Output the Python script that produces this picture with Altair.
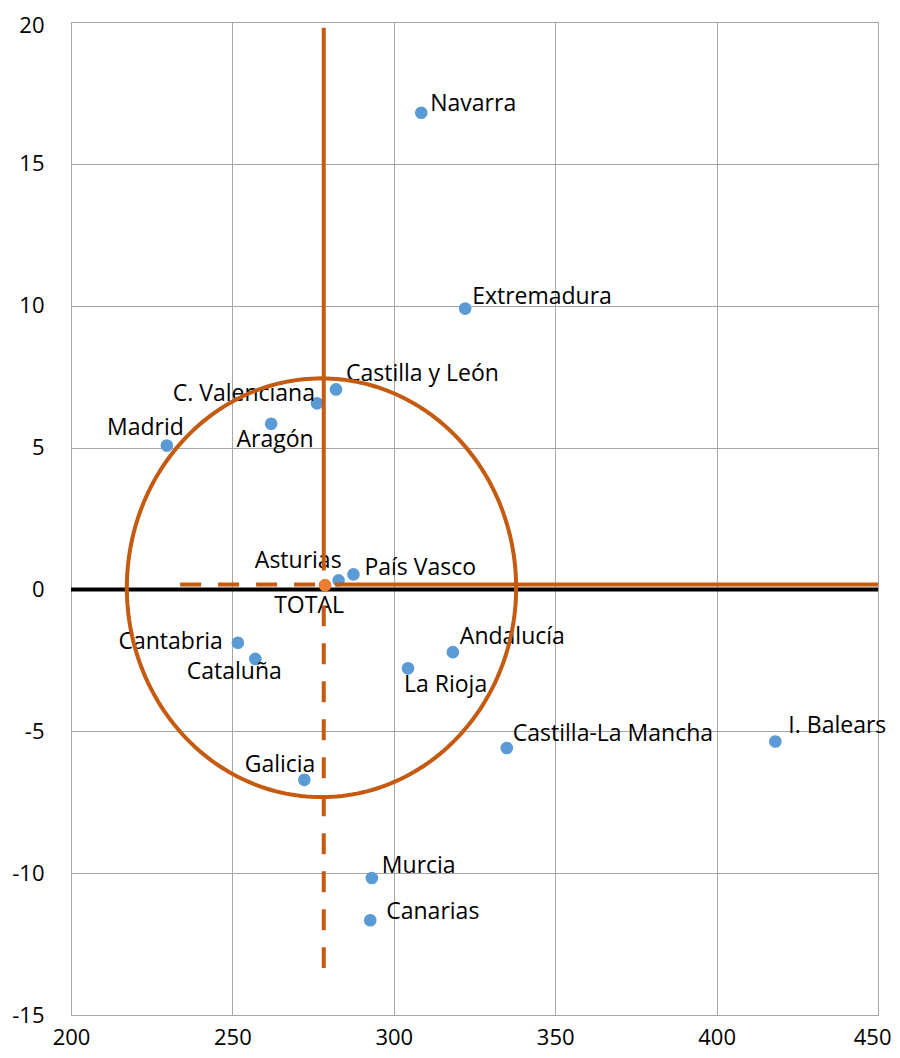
import altair as alt
import numpy as np
import pandas as pd

# ---------------- data ----------------
regions = ["Navarra", "Extremadura", "Castilla y León", "C. Valenciana", "Aragón",
           "Madrid", "Asturias", "País Vasco", "Cantabria", "Cataluña", "La Rioja",
           "Andalucía", "Castilla-La Mancha", "I. Balears", "Galicia", "Murcia", "Canarias"]
x_vals = [308.5, 322.1, 282.1, 276.2, 262.0, 229.7, 282.9, 287.5, 251.7, 257.1,
          304.4, 318.3, 335.0, 418.2, 272.3, 293.2, 292.7]
y_vals = [16.8, 9.9, 7.05, 6.56, 5.84, 5.07, 0.32, 0.53, -1.88, -2.45,
          -2.78, -2.21, -5.59, -5.36, -6.71, -10.17, -11.66]

total_name = ["TOTAL"]
total_x = [278.7]
total_y = [0.15]

# reference segments (solid / dashed)
solid_x1 = [278.3, 281.8]
solid_x2 = [278.3, 450.0]
solid_y1 = [19.8, 0.17]
solid_y2 = [0.67, 0.17]
dashed_x1 = [278.3, 233.8]
dashed_x2 = [278.3, 275.6]
dashed_y1 = [-0.56, 0.17]
dashed_y2 = [-13.34, 0.17]

# ellipse annotation (centre and radii in data units)
ellipse_center = [277.6, 0.06]
ellipse_radii = [60.3, 7.38]

x_ticks = [200, 250, 300, 350, 400, 450]
y_ticks = [-15, -10, -5, 0, 5, 10, 15, 20]

# ---------------- styles ----------------
FONT = "Open Sans"
FS = 23
AXIS_FS = 22
BLUE = "#5B9BD5"
ORANGE_PT = "#ED7D31"
ORANGE = "#C55A11"
GRID = "#A6A6A6"

# label placement: (align, dx, dy) in pixels
label_place = {
    "Navarra": ("left", 9, -9),
    "Extremadura": ("left", 7, -12),
    "Castilla y León": ("left", 10, -15),
    "C. Valenciana": ("right", -2, -9),
    "Aragón": ("center", 4, 16),
    "Madrid": ("right", 17, -18),
    "Asturias": ("right", 3, -19),
    "País Vasco": ("left", 11, -6),
    "Cantabria": ("right", -15, -1),
    "Cataluña": ("center", -21, 13),
    "La Rioja": ("left", -4, 17),
    "Andalucía": ("left", 7, -15),
    "Castilla-La Mancha": ("left", 6, -14),
    "I. Balears": ("left", 13, -15),
    "Galicia": ("right", 11, -15),
    "Murcia": ("left", 10, -12),
    "Canarias": ("left", 16, -8),
    "TOTAL": ("center", -16, 21),
}

pts = pd.DataFrame({"region": regions, "x": x_vals, "y": y_vals})
tot = pd.DataFrame({"region": total_name, "x": total_x, "y": total_y})
solid = pd.DataFrame({"x": solid_x1, "x2": solid_x2, "y": solid_y1, "y2": solid_y2})
dashed = pd.DataFrame({"x": dashed_x1, "x2": dashed_x2, "y": dashed_y1, "y2": dashed_y2})
t = np.linspace(0, 2 * np.pi, 241)
ell = pd.DataFrame({
    "x": ellipse_center[0] + ellipse_radii[0] * np.cos(t),
    "y": ellipse_center[1] + ellipse_radii[1] * np.sin(t),
    "o": np.arange(len(t)),
})
zero = pd.DataFrame({"x": [x_ticks[0]], "x2": [x_ticks[-1]], "y": [0]})

xs = alt.Scale(domain=[200, 450], nice=False, zero=False)
ys = alt.Scale(domain=[-15, 20], nice=False, zero=False)

last_x = "datum.value === %d" % x_ticks[-1]
top_y = "datum.value === %d" % y_ticks[-1]
x_axis = alt.Axis(values=x_ticks, grid=True, gridColor=GRID, gridWidth=1,
                  domainColor=GRID, domainWidth=1, ticks=False,
                  labelFont=FONT, labelFontSize=AXIS_FS, labelColor="#000000",
                  labelPadding=12, labelFlush=False, title=None,
                  labelAlign={"condition": {"test": last_x, "value": "right"},
                              "value": "center"},
                  labelOffset={"condition": {"test": last_x, "value": 13},
                               "value": 0},
                  labelExpr="'' + datum.value")
y_axis = alt.Axis(values=y_ticks, grid=True, gridColor=GRID, gridWidth=1,
                  domainColor=GRID, domainWidth=1, ticks=False,
                  labelFont=FONT, labelFontSize=AXIS_FS, labelColor="#000000",
                  labelPadding=27, labelAlign="right", labelBaseline="middle",
                  labelOffset={"condition": {"test": top_y, "value": 3},
                               "value": 0},
                  labelFlush=False, title=None, labelExpr="'' + datum.value")

base_axes = alt.Chart(zero).mark_rule(color="#000000", strokeWidth=4).encode(
    x=alt.X("x:Q", scale=xs, axis=x_axis),
    x2="x2:Q",
    y=alt.Y("y:Q", scale=ys, axis=y_axis),
)

points = alt.Chart(pts).mark_circle(size=160, color=BLUE, opacity=1).encode(
    x=alt.X("x:Q", scale=xs), y=alt.Y("y:Q", scale=ys))

labels = []
for name in regions + total_name:
    align, dx, dy = label_place[name]
    src = tot if name in total_name else pts
    labels.append(
        alt.Chart(src).transform_filter(alt.datum.region == name).mark_text(
            align=align, baseline="middle", dx=dx, dy=dy, font=FONT, fontSize=FS,
            color="#000000").encode(x=alt.X("x:Q", scale=xs), y=alt.Y("y:Q", scale=ys),
                                    text="region:N"))

ellipse = alt.Chart(ell).mark_line(color=ORANGE, strokeWidth=4).encode(
    x=alt.X("x:Q", scale=xs), y=alt.Y("y:Q", scale=ys), order="o:Q")

solid_lines = alt.Chart(solid).mark_rule(color=ORANGE, strokeWidth=4).encode(
    x=alt.X("x:Q", scale=xs), x2="x2:Q", y=alt.Y("y:Q", scale=ys), y2="y2:Q")
dashed_lines = alt.Chart(dashed).mark_rule(color=ORANGE, strokeWidth=4,
                                          strokeDash=[21, 17]).encode(
    x=alt.X("x:Q", scale=xs), x2="x2:Q", y=alt.Y("y:Q", scale=ys), y2="y2:Q")

total_pt = alt.Chart(tot).mark_circle(size=160, color=ORANGE_PT, opacity=1).encode(
    x=alt.X("x:Q", scale=xs), y=alt.Y("y:Q", scale=ys))

chart = alt.layer(base_axes, points, *labels, ellipse, solid_lines, dashed_lines,
                  total_pt).properties(
    width=807, height=993,
    autosize=alt.AutoSizeParams(type="none"),
    padding={"left": 63, "top": 14, "right": 14, "bottom": 35},
).configure_view(strokeWidth=0).configure(background="#ffffff")

chart.save("out.html", embed_options={"renderer": "svg", "actions": False})
